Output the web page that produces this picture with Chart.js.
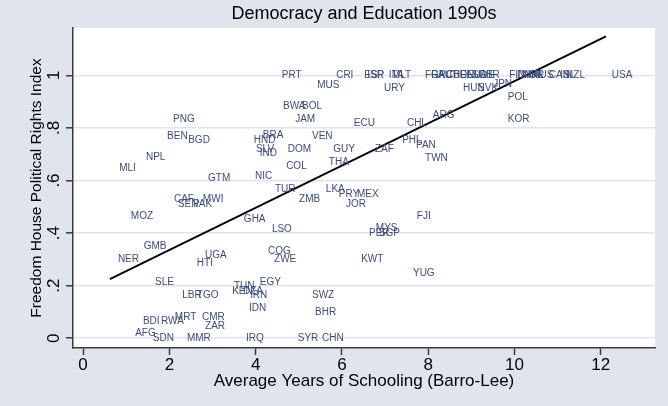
<!DOCTYPE html>
<html><head><meta charset="utf-8">
<script src="https://cdn.jsdelivr.net/npm/chart.js@4.4.1/dist/chart.umd.min.js"></script>
<style>html,body{margin:0;padding:0;background:#dfe4ee;} #wrap{width:668px;height:406px;position:relative;}</style>
</head><body><div id="wrap"><canvas id="c" width="668" height="406"></canvas></div>
<script>
const countries = ['PRT','CRI','ESP','ISR','ITA','MLT','FRA','GRC','AUT','CHE','BEL','DEU','NLD','SWE','GBR','FIN','DNK','NOR','IRL','AUS','CAN','ISL','NZL','USA',
 'MUS','URY','HUN','SVK','JPN','POL','KOR','ARG','CHL','ECU','JAM','BWA','BOL','VEN','PHL','PAN','TWN','ZAF','GUY','DOM','THA','COL','BRA','HND','SLV','IND','NIC',
 'PNG','BEN','BGD','NPL','MLI','GTM','CAF','SEN','PAK','MWI','MOZ','GHA','GMB','NER','UGA','HTI','TUR','LKA','PRY','MEX','ZMB','JOR','FJI','LSO','MYS','PER','SGP',
 'COG','ZWE','KWT','YUG','SLE','LBR','TGO','TUN','KEN','DZA','EGY','IRN','IDN','MRT','CMR','BDI','RWA','ZAR','AFG','SDN','MMR','IRQ','SWZ','BHR','SYR','CHN'];
const schooling = [4.56,5.82,6.47,6.54,7.04,7.11,7.88,8.02,8.18,8.36,8.53,8.69,8.85,8.97,9.11,9.83,10.01,10.13,10.27,10.38,10.75,11.01,11.15,12.21,
 5.38,6.93,8.76,9.11,9.46,9.80,9.80,8.06,7.46,6.23,4.87,4.59,5.03,5.26,7.35,7.67,7.88,6.72,5.75,4.70,5.65,4.66,4.12,3.91,3.96,4.05,3.94,
 2.04,1.90,2.39,1.41,0.79,2.85,2.06,2.15,2.50,2.73,1.06,3.68,1.36,0.76,2.78,2.59,4.40,5.58,5.88,6.30,4.96,6.05,7.69,4.33,6.74,6.58,6.81,
 4.24,4.38,6.40,7.60,1.62,2.25,2.59,3.45,3.41,3.66,4.05,3.82,3.80,2.08,2.71,1.34,1.76,2.78,1.16,1.57,2.36,3.73,5.26,5.33,4.93,5.49];
const rights = [1,1,1,1,1,1,1,1,1,1,1,1,1,1,1,1,1,1,1,1,1,1,1,1,
 0.963,0.952,0.952,0.952,0.967,0.917,0.834,0.849,0.819,0.819,0.834,0.883,0.883,0.767,0.752,0.733,0.684,0.719,0.719,0.719,0.669,0.654,0.771,0.752,0.719,0.703,0.617,
 0.834,0.767,0.752,0.688,0.648,0.609,0.529,0.510,0.510,0.529,0.465,0.454,0.351,0.302,0.317,0.286,0.568,0.568,0.549,0.549,0.529,0.510,0.465,0.416,0.419,0.400,0.400,
 0.332,0.302,0.302,0.248,0.214,0.165,0.165,0.199,0.180,0.180,0.214,0.165,0.115,0.081,0.081,0.066,0.066,0.047,0.020,0,0,0,0.165,0.100,0,0];
const fitX = [0.62, 12.12];
const fitY = [0.225, 1.148];
const xTicks = [0,2,4,6,8,10,12];
const yTicks = [0,0.2,0.4,0.6,0.8,1];
const yTickLabels = ['0','.2','.4','.6','.8','1'];
const titleText = 'Democracy and Education 1990s';
const xTitle = 'Average Years of Schooling (Barro-Lee)';
const yTitle = 'Freedom House Political Rights Index';

const BG = '#dfe4ee';
const AXIS = '#3a3a3a';
const FONT = '"Liberation Sans", Arial, sans-serif';

const decor = {
  id: 'decor',
  beforeDraw(chart) {
    const {ctx, chartArea: a} = chart;
    ctx.save();
    ctx.fillStyle = BG;
    ctx.fillRect(0, 0, chart.width, chart.height);
    ctx.fillStyle = '#ffffff';
    ctx.fillRect(a.left, a.top, a.right - a.left, a.bottom - a.top);
    ctx.restore();
  },
  afterDatasetsDraw(chart) {
    const {ctx} = chart;
    const meta = chart.getDatasetMeta(0);
    ctx.save();
    ctx.font = '10px ' + FONT;
    ctx.fillStyle = '#3a4d80';
    ctx.textAlign = 'left';
    ctx.textBaseline = 'middle';
    meta.data.forEach((pt, i) => {
      ctx.fillText(countries[i], pt.x + 2, pt.y);
    });
    ctx.restore();
  },
  afterDraw(chart) {
    const {ctx, chartArea: a, scales} = chart;
    const cx = (a.left + a.right) / 2;
    ctx.save();
    ctx.fillStyle = '#000';
    ctx.textAlign = 'center';
    ctx.textBaseline = 'middle';
    ctx.font = '18px ' + FONT;
    ctx.fillText(titleText, cx, 14);
    ctx.font = '17px ' + FONT;
    ctx.fillText(xTitle, cx, 381);
    ctx.save();
    ctx.font = '15.5px ' + FONT;
    ctx.translate(37, (a.top + a.bottom) / 2);
    ctx.rotate(-Math.PI / 2);
    ctx.fillText(yTitle, 0, 0);
    ctx.restore();
    ctx.font = '17px ' + FONT;
    yTicks.forEach((v, i) => {
      const py = scales.y.getPixelForValue(v);
      ctx.save();
      ctx.translate(63, py);
      ctx.rotate(-Math.PI / 2);
      ctx.textAlign = 'center';
      ctx.textBaseline = 'bottom';
      ctx.fillText(yTickLabels[i], 0, 0);
      ctx.restore();
    });
    ctx.restore();
  }
};

new Chart(document.getElementById('c'), {
  type: 'scatter',
  data: {
    datasets: [
      { data: schooling.map((x, i) => ({x, y: rights[i]})), pointRadius: 0, pointHoverRadius: 0, showLine: false },
      { type: 'line', data: fitX.map((x, i) => ({x, y: fitY[i]})), borderColor: '#000', borderWidth: 1.8, pointRadius: 0, fill: false, tension: 0 }
    ]
  },
  options: {
    responsive: false,
    animation: false,
    devicePixelRatio: 1,
    layout: { padding: { top: 28, right: 13, left: 0, bottom: 0 } },
    plugins: { legend: { display: false }, tooltip: { enabled: false }, title: { display: false } },
    scales: {
      x: {
        type: 'linear', min: -0.234, max: 13.257,
        afterBuildTicks: s => { s.ticks = xTicks.map(v => ({value: v})); },
        afterFit: s => { s.height = 58; },
        ticks: { font: { family: FONT, size: 17 }, color: '#000', padding: 0, maxRotation: 0, autoSkip: false, callback: v => String(v) },
        grid: { drawOnChartArea: false, drawTicks: true, tickLength: 7, tickColor: AXIS, tickWidth: 1.5 },
        border: { display: true, color: AXIS, width: 1.5 }
      },
      y: {
        type: 'linear', min: -0.0369, max: 1.18,
        afterBuildTicks: s => { s.ticks = yTicks.map(v => ({value: v})); },
        afterFit: s => { s.width = 73; },
        ticks: { display: false },
        grid: { drawOnChartArea: true, color: BG, lineWidth: 1.6, drawTicks: true, tickLength: 7, tickColor: AXIS, tickWidth: 1.5 },
        border: { display: true, color: AXIS, width: 1.5 }
      }
    }
  },
  plugins: [decor]
});
</script>
</body></html>
